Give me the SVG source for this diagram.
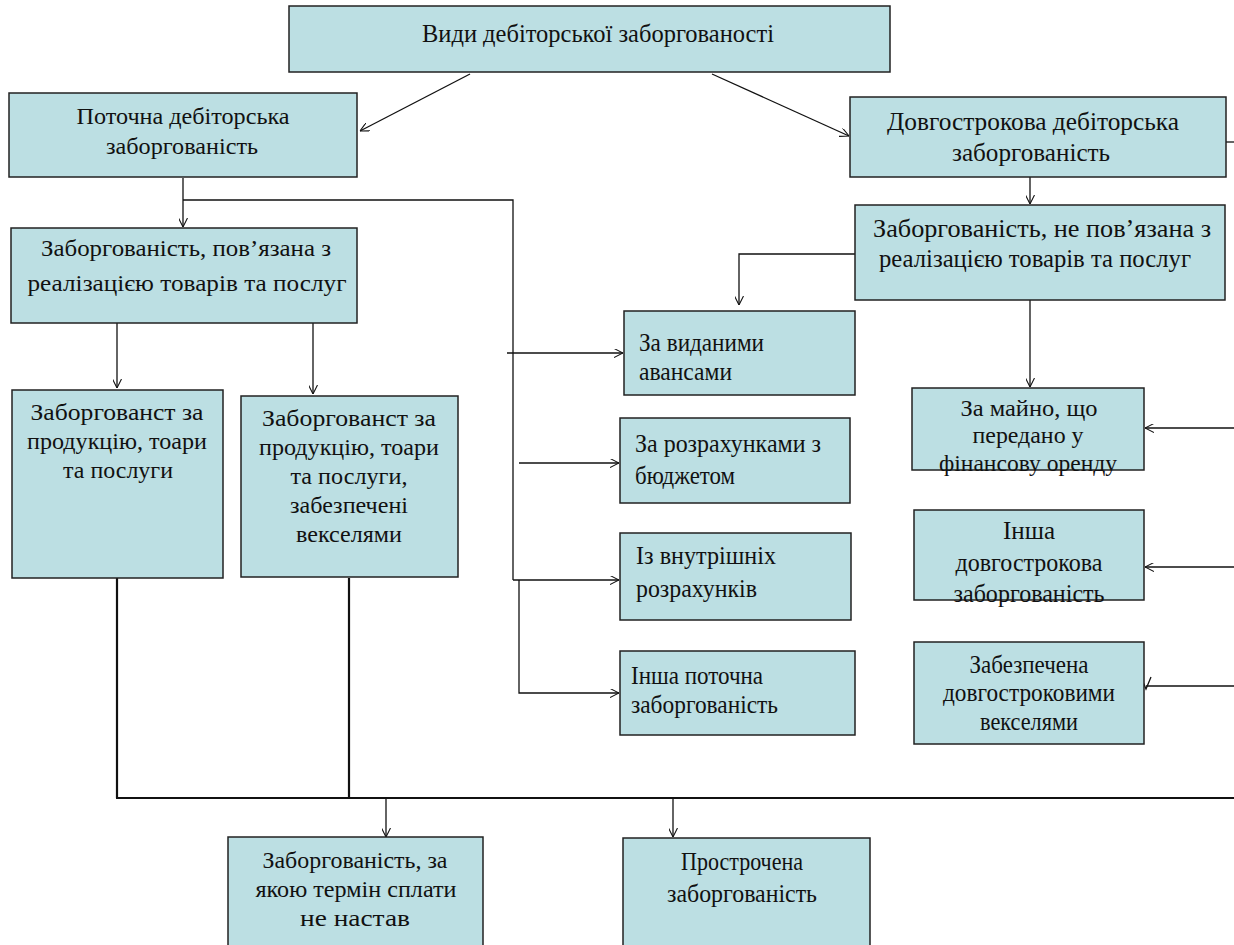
<svg xmlns="http://www.w3.org/2000/svg" width="1234" height="945" viewBox="0 0 1234 945">
<style>
.box{fill:#bcdfe3;stroke:#222;stroke-width:1.5}
text{font-family:"Liberation Serif","Times New Roman",serif;fill:#111;font-size:23.5px}
.c{text-anchor:middle}
.t{font-size:26px}
.k{font-size:26px}
.s{font-size:24px}
.ln{fill:none;stroke:#111;stroke-width:1.3}
.lt{fill:none;stroke:#111;stroke-width:2.2}
</style>
<defs>
<marker id="a" viewBox="0 0 10 10" refX="10" refY="5" markerWidth="9" markerHeight="9" markerUnits="userSpaceOnUse" orient="auto">
<path d="M0,0 L10,5 L0,10" fill="none" stroke="#111" stroke-width="1.2"/>
</marker>
</defs>
<g id="connectors">
<line class="ln" x1="470" y1="74" x2="360" y2="131" marker-end="url(#a)"/>
<line class="ln" x1="712" y1="74" x2="849" y2="136" marker-end="url(#a)"/>
<line class="ln" x1="183" y1="178" x2="183" y2="227" marker-end="url(#a)"/>
<polyline class="ln" points="183,200 513,200 513,580"/>
<line class="ln" x1="507" y1="353" x2="623" y2="353" marker-end="url(#a)"/>
<line class="ln" x1="519" y1="463" x2="619" y2="463" marker-end="url(#a)"/>
<line class="ln" x1="513" y1="580" x2="619" y2="580" marker-end="url(#a)"/>
<polyline class="ln" points="519,580 519,693 619,693" marker-end="url(#a)"/>
<line class="ln" x1="117" y1="323" x2="117" y2="388" marker-end="url(#a)"/>
<line class="ln" x1="313" y1="323" x2="313" y2="394" marker-end="url(#a)"/>
<line class="lt" x1="117" y1="578" x2="117" y2="798"/>
<line class="lt" x1="349" y1="578" x2="349" y2="798"/>
<line class="lt" x1="116" y1="798" x2="1234" y2="798"/>
<line class="ln" x1="386" y1="798" x2="386" y2="837" marker-end="url(#a)"/>
<line class="ln" x1="673" y1="798" x2="673" y2="837" marker-end="url(#a)"/>
<line class="ln" x1="1030" y1="177" x2="1030" y2="204" marker-end="url(#a)"/>
<polyline class="ln" points="855,254 739,254 739,305" marker-end="url(#a)"/>
<line class="ln" x1="1030" y1="300" x2="1030" y2="387" marker-end="url(#a)"/>
<line class="ln" x1="1226" y1="142" x2="1234" y2="142"/>
<line class="ln" x1="1234" y1="428" x2="1145" y2="428" marker-end="url(#a)"/>
<line class="ln" x1="1234" y1="567" x2="1145" y2="567" marker-end="url(#a)"/>
<line class="ln" x1="1234" y1="686" x2="1146" y2="686"/>
<path class="ln" d="M1141,677 L1146,689 L1151,677"/>
</g>
<g id="n-root">
<rect class="box" x="289" y="6" width="601" height="66"/>
<text class="c t" x="598" y="42" textLength="352" lengthAdjust="spacingAndGlyphs">Види дебіторської заборгованості</text>
</g>
<g id="n-current">
<rect class="box" x="9" y="93" width="348" height="84"/>
<text class="c" x="183" y="124" textLength="213" lengthAdjust="spacingAndGlyphs">Поточна дебіторська</text>
<text class="c" x="182" y="154" textLength="152" lengthAdjust="spacingAndGlyphs">заборгованість</text>
</g>
<g id="n-long">
<rect class="box" x="850" y="97" width="376" height="80"/>
<text class="c k" x="1033" y="130" textLength="292" lengthAdjust="spacingAndGlyphs">Довгострокова дебіторська</text>
<text class="c k" x="1031" y="161" textLength="158" lengthAdjust="spacingAndGlyphs">заборгованість</text>
</g>
<g id="n-related">
<rect class="box" x="11" y="228" width="346" height="95"/>
<text class="c" x="186" y="256" textLength="290" lengthAdjust="spacingAndGlyphs">Заборгованість, пов’язана з</text>
<text class="c" x="187" y="291" textLength="319" lengthAdjust="spacingAndGlyphs">реалізацією товарів та послуг</text>
</g>
<g id="n-goods">
<rect class="box" x="12" y="390" width="211" height="188"/>
<text class="c" x="117" y="420" textLength="173" lengthAdjust="spacingAndGlyphs">Заборгованст за</text>
<text class="c" x="117" y="449" textLength="180" lengthAdjust="spacingAndGlyphs">продукцію, тоари</text>
<text class="c" x="118" y="478" textLength="110" lengthAdjust="spacingAndGlyphs">та послуги</text>
</g>
<g id="n-goods-bills">
<rect class="box" x="241" y="396" width="217" height="181"/>
<text class="c" x="349" y="426" textLength="174" lengthAdjust="spacingAndGlyphs">Заборгованст за</text>
<text class="c" x="349" y="455" textLength="180" lengthAdjust="spacingAndGlyphs">продукцію, тоари</text>
<text class="c" x="349" y="484" textLength="117" lengthAdjust="spacingAndGlyphs">та послуги,</text>
<text class="c" x="349" y="513" textLength="118" lengthAdjust="spacingAndGlyphs">забезпечені</text>
<text class="c" x="349" y="542" textLength="106" lengthAdjust="spacingAndGlyphs">векселями</text>
</g>
<g id="n-unrelated">
<rect class="box" x="855" y="205" width="370" height="95"/>
<text class="c k" x="1042" y="237" textLength="338" lengthAdjust="spacingAndGlyphs">Заборгованість, не пов’язана з</text>
<text class="c k" x="1035" y="267" textLength="312" lengthAdjust="spacingAndGlyphs">реалізацією товарів та послуг</text>
</g>
<g id="n-advances">
<rect class="box" x="624" y="311" width="231" height="84"/>
<text class="k" x="639" y="351" textLength="125" lengthAdjust="spacingAndGlyphs">За виданими</text>
<text class="k" x="639" y="380" textLength="93" lengthAdjust="spacingAndGlyphs">авансами</text>
</g>
<g id="n-budget">
<rect class="box" x="620" y="418" width="230" height="85"/>
<text class="k" x="635" y="452" textLength="186" lengthAdjust="spacingAndGlyphs">За розрахунками з</text>
<text class="k" x="635" y="484" textLength="100" lengthAdjust="spacingAndGlyphs">бюджетом</text>
</g>
<g id="n-internal">
<rect class="box" x="620" y="533" width="231" height="87"/>
<text class="k" x="636" y="564" textLength="140" lengthAdjust="spacingAndGlyphs">Із внутрішніх</text>
<text class="k" x="636" y="597" textLength="121" lengthAdjust="spacingAndGlyphs">розрахунків</text>
</g>
<g id="n-other-current">
<rect class="box" x="620" y="651" width="235" height="84"/>
<text class="k" x="631" y="684" textLength="132" lengthAdjust="spacingAndGlyphs">Інша поточна</text>
<text class="k" x="631" y="713" textLength="147" lengthAdjust="spacingAndGlyphs">заборгованість</text>
</g>
<g id="n-lease">
<rect class="box" x="912" y="388" width="232" height="82"/>
<text class="c s" x="1029" y="416" textLength="137" lengthAdjust="spacingAndGlyphs">За майно, що</text>
<text class="c s" x="1028" y="443" textLength="111" lengthAdjust="spacingAndGlyphs">передано у</text>
<text class="c s" x="1028" y="471" textLength="178" lengthAdjust="spacingAndGlyphs">фінансову оренду</text>
</g>
<g id="n-other-long">
<rect class="box" x="914" y="510" width="230" height="90"/>
<text class="c k" x="1029" y="539" textLength="52" lengthAdjust="spacingAndGlyphs">Інша</text>
<text class="c k" x="1029" y="571" textLength="147" lengthAdjust="spacingAndGlyphs">довгострокова</text>
<text class="c k" x="1029" y="602" textLength="151" lengthAdjust="spacingAndGlyphs">заборгованість</text>
</g>
<g id="n-long-bills">
<rect class="box" x="914" y="642" width="230" height="102"/>
<text class="c k" x="1029" y="673" textLength="119" lengthAdjust="spacingAndGlyphs">Забезпечена</text>
<text class="c k" x="1029" y="701" textLength="172" lengthAdjust="spacingAndGlyphs">довгостроковими</text>
<text class="c k" x="1029" y="730" textLength="98" lengthAdjust="spacingAndGlyphs">векселями</text>
</g>
<g id="n-not-due">
<rect class="box" x="228" y="837" width="255" height="116"/>
<text class="c" x="355" y="868" textLength="185" lengthAdjust="spacingAndGlyphs">Заборгованість, за</text>
<text class="c" x="356" y="897" textLength="201" lengthAdjust="spacingAndGlyphs">якою термін сплати</text>
<text class="c" x="355" y="926" textLength="110" lengthAdjust="spacingAndGlyphs">не настав</text>
</g>
<g id="n-overdue">
<rect class="box" x="623" y="838" width="247" height="115"/>
<text class="c k" x="742" y="870" textLength="122" lengthAdjust="spacingAndGlyphs">Прострочена</text>
<text class="c k" x="742" y="902" textLength="150" lengthAdjust="spacingAndGlyphs">заборгованість</text>
</g>
</svg>
